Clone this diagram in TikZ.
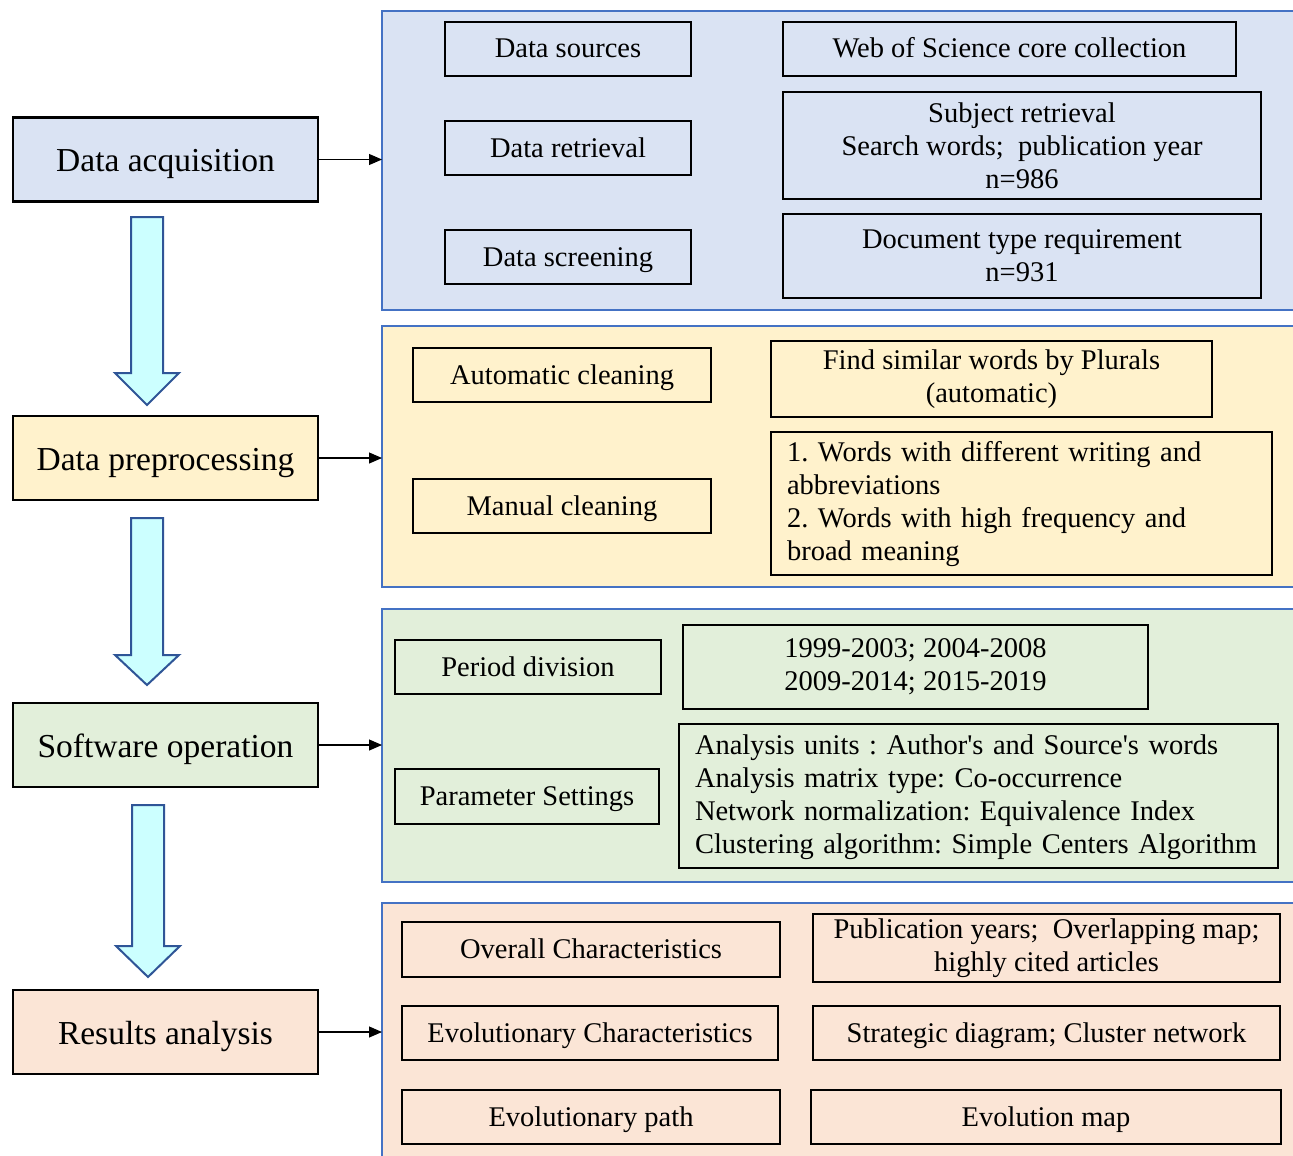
\documentclass[tikz,border=0pt]{standalone}
\usepackage{fontspec}
\setmainfont{Liberation Serif}
\frenchspacing
\usetikzlibrary{arrows.meta}
\definecolor{pblue}{HTML}{DAE3F3}
\definecolor{pyellow}{HTML}{FFF2CC}
\definecolor{pgreen}{HTML}{E2EFDA}
\definecolor{porange}{HTML}{FBE5D6}
\definecolor{pborder}{HTML}{4472C4}
\definecolor{arrfill}{HTML}{CCFFFF}
\definecolor{arrborder}{HTML}{2F5597}
\tikzset{
  stagebox/.style={draw=black, line width=2.4pt, inner sep=0pt, outer sep=0pt, minimum width=305pt, minimum height=84pt, text height=24pt, text depth=0pt, font=\fontsize{33.5}{40}\selectfont},
  panel/.style={draw=pborder, line width=2pt, inner sep=0pt, outer sep=0pt, minimum width=928pt},
  inbox/.style={draw=black, line width=2.4pt, inner sep=0pt, outer sep=0pt, align=center, font=\fontsize{28.5}{33}\selectfont},
  onebox/.style={inbox, text height=19pt, text depth=1pt},
  leftbox/.style={draw=black, line width=2.4pt, inner xsep=16pt, inner ysep=0pt, outer sep=0pt, align=left, text height=22pt, font=\fontsize{28.5}{33}\selectfont},
  blockarrow/.style={draw=arrborder, line width=2pt, fill=arrfill, line join=miter},
  link/.style={draw=black, line width=1.1pt, -{Triangle[length=13pt,width=11pt]}}
}
\begin{document}
\begin{tikzpicture}[x=1pt,y=-1pt]
\useasboundingbox (0,0) rectangle (1293,1156);
\clip (0,0) rectangle (1293,1156);
\fill[white] (0,0) rectangle (1293,1156);

% panels
\node[panel, fill=pblue, minimum height=299pt] (p1) at (846,160.5) {};
\node[panel, fill=pyellow, minimum height=261pt] (p2) at (846,456.5) {};
\node[panel, fill=pgreen, minimum height=273pt] (p3) at (846,745.5) {};
\node[panel, fill=porange, minimum height=267pt] (p4) at (846,1036.5) {};

% stage boxes
\node[stagebox, fill=pblue] (acq) at (165.5,159.5) {Data acquisition};
\node[stagebox, fill=pyellow] (pre) at (165.5,458) {Data preprocessing};
\node[stagebox, fill=pgreen] (soft) at (165.5,745) {Software operation};
\node[stagebox, fill=porange] (res) at (165.5,1032) {Results analysis};

% links
\draw[link] (acq.east) -- (acq.east -| p1.west);
\draw[link] (pre.east) -- (pre.east -| p2.west);
\draw[link] (soft.east) -- (soft.east -| p3.west);
\draw[link] (res.east) -- (res.east -| p4.west);

% block arrows
\draw[blockarrow] (131,217) -- (163,217) -- (163,373) -- (179,373) -- (147,405) -- (115,373) -- (131,373) -- cycle;
\draw[blockarrow] (131,518) -- (163,518) -- (163,655) -- (179,655) -- (147,685) -- (115,655) -- (131,655) -- cycle;
\draw[blockarrow] (132,805) -- (164,805) -- (164,946) -- (180,946) -- (148,977) -- (116,946) -- (132,946) -- cycle;

% panel 1
\node[onebox, minimum width=246pt, minimum height=54pt] (ds) at (568,49) {Data sources};
\node[onebox, minimum width=246pt, minimum height=54pt] (dr) at (568,148) {Data retrieval};
\node[onebox, minimum width=246pt, minimum height=54pt] (dsc) at (568,257) {Data screening};
\node[onebox, minimum width=453pt, minimum height=54pt] (wos) at (1009.5,49) {Web of Science core collection};
\node[inbox, minimum width=478pt, minimum height=107pt] (subj) at (1022,145.5) {Subject retrieval\\Search words;\ \ publication year\\n=986};
\node[inbox, minimum width=478pt, minimum height=84pt] (doc) at (1022,256) {Document type requirement\\n=931};

% panel 2
\node[onebox, minimum width=298pt, minimum height=54pt] (auto) at (562,375) {Automatic cleaning};
\node[onebox, minimum width=298pt, minimum height=54pt] (man) at (562,506) {Manual cleaning};
\node[inbox, minimum width=441pt, minimum height=76pt] (find) at (991.5,379) {Find similar words by Plurals\\(automatic)};
\node[leftbox, text width=469pt, minimum height=143pt] (words) at (1021.5,503.5) {1. Words with different writing and\\abbreviations\\2. Words with high frequency and\\broad meaning};

% panel 3
\node[onebox, minimum width=266pt, minimum height=54pt] (period) at (528,667) {Period division};
\node[onebox, minimum width=264pt, minimum height=55pt] (param) at (527,796.5) {Parameter Settings};
\node[inbox, minimum width=465pt, minimum height=84pt] (years) at (915.5,667) {1999-2003; 2004-2008\\2009-2014; 2015-2019};
\node[leftbox, text width=567pt, minimum height=144pt] (analysis) at (978.5,796) {Analysis units : Author\textquotesingle s and Source\textquotesingle s words\\Analysis matrix type: Co-occurrence\\Network normalization: Equivalence Index\\Clustering algorithm: Simple Centers Algorithm};

% panel 4
\node[onebox, minimum width=378pt, minimum height=55pt] (overall) at (591,949.5) {Overall Characteristics};
\node[onebox, minimum width=376pt, minimum height=54pt] (evochar) at (590,1033) {Evolutionary Characteristics};
\node[onebox, minimum width=378pt, minimum height=54pt] (evopath) at (591,1117) {Evolutionary path};
\node[inbox, minimum width=467pt, minimum height=68pt] (pub) at (1046.5,948) {Publication years;\ \ Overlapping map;\\highly cited articles};
\node[onebox, minimum width=467pt, minimum height=54pt] (strat) at (1046.5,1033) {Strategic diagram; Cluster network};
\node[onebox, minimum width=470pt, minimum height=54pt] (evomap) at (1046,1117) {Evolution map};
\end{tikzpicture}
\end{document}
